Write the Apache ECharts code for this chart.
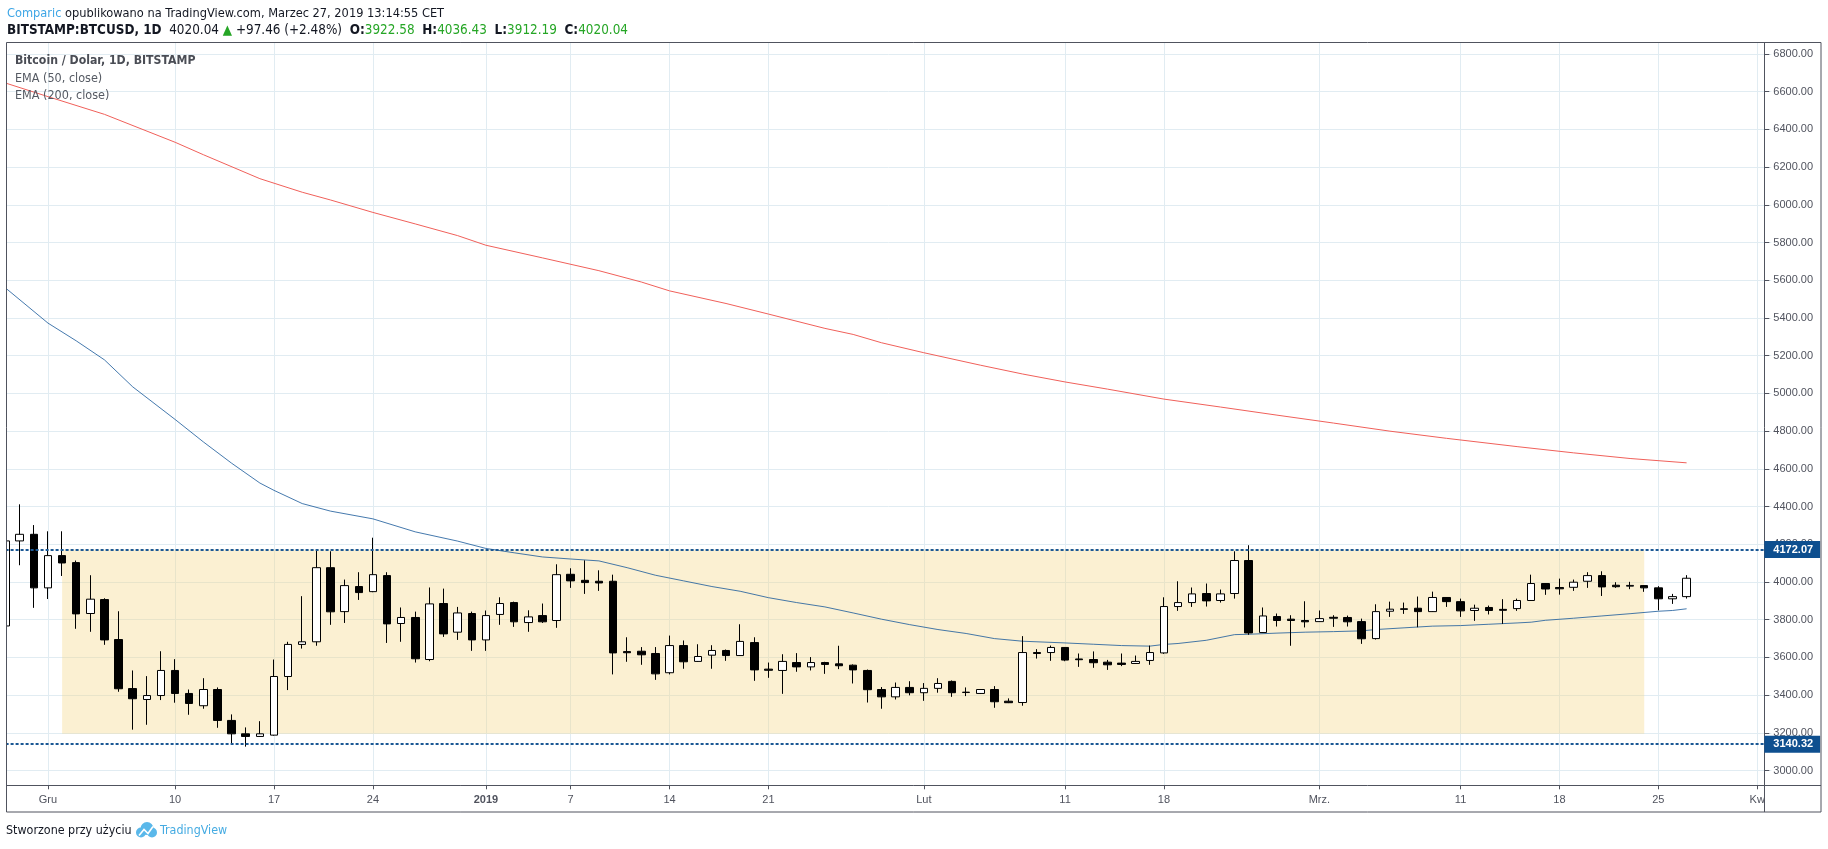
<!DOCTYPE html>
<html><head><meta charset="utf-8">
<script src="https://cdn.jsdelivr.net/npm/echarts@6/dist/echarts.min.js"></script>
<style>html,body{margin:0;padding:0;background:#fff}#c{width:1828px;height:849px}</style>
</head><body><div id="c"></div><script>
// ---- data ----
const firstDay = '2018-11-28';   // first category (left edge of pane)
const lastDay  = '2019-04-02';   // last category (beyond right edge)
const openV = [3767,4218,4253,
 3969,4140,4103,3833,3907,3695,3435,3377,3398,3531,3409,3344,3430,3266,3195,3181,3188,3499,3669,3683,4076,3843,3976,3949,4034,3780,3812,3589,3886,3734,3833,
 3693,3828,3891,3785,3822,3796,4041,4009,4004,4004,3631,3633,3621,3519,3663,3579,3612,3637,3610,3679,3538,3531,3573,3550,3573,3566,3559,3531,3430,3391,3441,
 3413,3436,3473,3414,3409,3430,3368,3361,3626,3626,3653,3592,3589,3575,3570,3568,3584,3624,3870,3891,3939,3902,3939,4114,3732,3817,3803,3796,
 3790,3813,3812,3790,3700,3845,3858,3861,3843,3918,3896,3849,3865,3855,3859,3902,3992,3971,3972,4004,4034,3983,3978,3981,3969,3911,3922.58];
const closeV = [4218,4253,3969,
 4140,4101,3831,3909,3693,3434,3381,3398,3531,3409,3356,3430,3266,3195,3181,3195,3499,3669,3683,4076,3842,3981,3944,4039,3778,3812,3593,3884,3725,3836,3693,
 3822,3886,3789,3815,3789,4039,4006,3997,3995,3624,3625,3614,3513,3663,3577,3605,3637,3610,3685,3534,3532,3579,3550,3573,3563,3556,3534,3429,3391,3441,3413,
 3436,3462,3413,3416,3430,3365,3360,3626,3621,3653,3586,3588,3572,3561,3563,3579,3626,3870,3891,3937,3900,3937,4114,3730,3820,3796,3796,3789,
 3806,3808,3789,3699,3843,3856,3855,3843,3918,3896,3847,3861,3849,3850,3902,3992,3963,3964,3999,4034,3974,3975,3982,3969,3911,3922.58,4020.04];
const lowV = [3740,4089,3863,
 3910,4032,3752,3736,3667,3418,3217,3243,3374,3360,3296,3328,3227,3139,3127,3179,3185,3427,3647,3662,3773,3783,3905,3946,3677,3683,3573,3580,3709,3693,3635,
 3635,3773,3762,3736,3783,3757,3969,3937,3953,3510,3577,3561,3481,3510,3540,3576,3540,3582,3608,3476,3492,3407,3524,3531,3513,3538,3462,3361,3328,3377,3399,
 3370,3413,3391,3395,3406,3333,3358,3344,3594,3582,3580,3550,3545,3534,3554,3566,3561,3619,3847,3868,3870,3891,3912,3720,3730,3764,3662,3759,
 3788,3762,3764,3672,3695,3815,3831,3760,3841,3868,3815,3794,3828,3778,3847,3900,3932,3933,3953,3969,3926,3969,3962,3948,3850,3884,3912.19];
const highV = [4260,4412,4302,
 4269,4269,4114,4036,3914,3845,3531,3501,3633,3591,3430,3490,3441,3298,3229,3262,3589,3683,3925,4172,4163,4013,4052,4235,4052,3865,3843,3971,3965,3868,3843,
 3849,3919,3896,3850,3886,4094,4073,4115,4062,4039,3707,3655,3655,3716,3690,3670,3665,3642,3776,3707,3573,3617,3623,3602,3577,3662,3563,3536,3443,3467,3474,
 3464,3490,3478,3441,3432,3448,3383,3713,3644,3663,3655,3621,3632,3587,3621,3610,3663,3919,4004,3971,3992,3960,4163,4195,3865,3833,3824,3898,
 3849,3824,3822,3806,3882,3896,3891,3923,3949,3919,3912,3880,3875,3909,3912,4039,3994,4018,4013,4052,4057,3999,4001,3983,3978,3937,4036.43];

const ema50Dates = ['2018-11-28','2018-12-01','2018-12-03','2018-12-05','2018-12-07','2018-12-10','2018-12-12','2018-12-14','2018-12-16','2018-12-17','2018-12-19','2018-12-21','2018-12-24','2018-12-27','2018-12-30','2019-01-01','2019-01-03','2019-01-05','2019-01-07','2019-01-09','2019-01-11','2019-01-13','2019-01-15','2019-01-17','2019-01-19','2019-01-21','2019-01-23','2019-01-25','2019-01-27','2019-01-29','2019-01-31','2019-02-02','2019-02-04','2019-02-06','2019-02-08','2019-02-11','2019-02-13','2019-02-15','2019-02-17','2019-02-18','2019-02-19','2019-02-21','2019-02-23','2019-02-24','2019-02-26','2019-02-28','2019-03-02','2019-03-04','2019-03-05','2019-03-07','2019-03-09','2019-03-11','2019-03-13','2019-03-15','2019-03-16','2019-03-17','2019-03-19','2019-03-21','2019-03-23','2019-03-25','2019-03-26','2019-03-27'];
const ema50 = [5559,5373,5279,5178,5035,4862,4743,4630,4525,4486,4416,4376,4335,4266,4217,4178,4155,4133,4122,4112,4076,4036,4006,3976,3951,3917,3891,3868,3836,3803,3774,3748,3727,3700,3686,3677,3670,3663,3660,3669,3674,3691,3721,3723,3729,3734,3737,3741,3748,3757,3766,3769,3776,3783,3787,3797,3808,3820,3832,3845,3849,3858];

const ema200Dates = ['2018-11-28','2018-12-01','2018-12-05','2018-12-10','2018-12-12','2018-12-16','2018-12-19','2018-12-21','2018-12-24','2018-12-27','2018-12-30','2019-01-01','2019-01-05','2019-01-09','2019-01-12','2019-01-14','2019-01-18','2019-01-21','2019-01-25','2019-01-27','2019-01-29','2019-02-01','2019-02-05','2019-02-08','2019-02-11','2019-02-14','2019-02-18','2019-02-22','2019-02-26','2019-03-02','2019-03-06','2019-03-10','2019-03-15','2019-03-19','2019-03-23','2019-03-27'];
const ema200 = [6646,6574,6480,6332,6266,6139,6067,6026,5960,5899,5837,5786,5719,5651,5591,5544,5477,5421,5345,5313,5269,5216,5150,5103,5061,5023,4970,4928,4885,4843,4800,4762,4718,4685,4655,4632];

const resistance = 4172.07;
const support = 3140.32;
const zoneFrom = '2018-12-02', zoneTo = '2019-03-24', zoneLow = 3195, zoneHigh = 4172.07;

const tickDates  = ['2018-12-01','2018-12-10','2018-12-17','2018-12-24','2019-01-01','2019-01-07','2019-01-14','2019-01-21','2019-02-01','2019-02-11','2019-02-18','2019-03-01','2019-03-11','2019-03-18','2019-03-25','2019-04-01'];
const tickLabels = ['Gru','10','17','24','2019','7','14','21','Lut','11','18','Mrz.','11','18','25','Kw'];

// ---- build ----
function iso(d){return d.toISOString().slice(0,10);}
const dates = [];
for (let d = new Date(firstDay+'T00:00:00Z'); iso(d) <= lastDay; d.setUTCDate(d.getUTCDate()+1)) dates.push(iso(d));
const candles = openV.map((o,i)=>[o, closeV[i], lowV[i], highV[i]]);
const labelOf = {}; tickDates.forEach((d,i)=>labelOf[d]=tickLabels[i]);
const isTick = (i,v)=> labelOf[v] !== undefined;

const n = closeV.length;
const lastC = closeV[n-1], prevC = closeV[n-2];
const chg = lastC - prevC, pct = chg/prevC*100;
const f2 = v => v.toFixed(2);

const FN = '"DejaVu Sans Condensed","Liberation Sans",sans-serif';
const FA = '"Liberation Sans",Arial,sans-serif';
const AX = '#50535e', GRID = '#e1ecf2';

const chart = echarts.init(document.getElementById('c'), null, {renderer:'canvas'});
chart.setOption({
  animation: false,
  backgroundColor: '#ffffff',
  title: [
    {left: 7, top: 6, padding: 0, text: '{c|Comparic} opublikowano na TradingView.com, Marzec 27, 2019 13:14:55 CET',
     textStyle: {fontFamily: FN, fontSize: 12.7, fontWeight: 'normal', color: '#131722', lineHeight: 16,
       rich: {c: {color: '#3ea6e6', fontFamily: FN, fontSize: 12.7}}}},
    {left: 7, top: 23, padding: 0,
     text: '{b|BITSTAMP:BTCUSD, 1D}  ' + f2(lastC) + ' {g|▲} +' + f2(chg) + ' (+' + f2(pct) + '%)  {b|O:}{g|' + f2(openV[n-1]) + '}  {b|H:}{g|' + f2(highV[n-1]) + '}  {b|L:}{g|' + f2(lowV[n-1]) + '}  {b|C:}{g|' + f2(lastC) + '}',
     textStyle: {fontFamily: FN, fontSize: 13.4, fontWeight: 'normal', color: '#131722', lineHeight: 16,
       rich: {b: {fontWeight: 'bold', fontFamily: FN, fontSize: 13.4, color: '#131722'}, g: {color: '#26a626', fontFamily: FN, fontSize: 13.4}}}},
    {left: 15, top: 53, padding: 0, text: 'Bitcoin / Dolar, 1D, BITSTAMP',
     textStyle: {fontFamily: FN, fontSize: 12.2, fontWeight: 'bold', color: '#4a4d55', lineHeight: 16}},
    {left: 15, top: 71, padding: 0, text: 'EMA (50, close)',
     textStyle: {fontFamily: FN, fontSize: 12.5, fontWeight: 'normal', color: '#555a63', lineHeight: 16}},
    {left: 15, top: 88, padding: 0, text: 'EMA (200, close)',
     textStyle: {fontFamily: FN, fontSize: 12.5, fontWeight: 'normal', color: '#555a63', lineHeight: 16}},
    {left: 6, top: 823, padding: 0, text: 'Stworzone przy użyciu',
     textStyle: {fontFamily: FN, fontSize: 12.4, fontWeight: 'normal', color: '#131722', lineHeight: 16}},
    {left: 160, top: 823, padding: 0, text: 'TradingView',
     textStyle: {fontFamily: FN, fontSize: 12.4, fontWeight: 'normal', color: '#45abe2', lineHeight: 16}}
  ],
  grid: {left: 5.6, right: 56.65, top: 42.7, bottom: 63.7, containLabel: false, outerBoundsMode: 'none'},
  xAxis: {
    type: 'category', data: dates, boundaryGap: false,
    axisLine: {show: false},
    axisTick: {show: true, interval: isTick, length: 4, lineStyle: {color: AX}},
    axisLabel: {interval: isTick, formatter: v => v === '2019-01-01' ? '{y|2019}' : (labelOf[v] || ''),
      color: AX, fontFamily: FA, fontSize: 11, margin: 9,
      rich: {y: {fontWeight: 'bold', color: AX, fontFamily: FA, fontSize: 11}}},
    splitLine: {show: true, interval: isTick, lineStyle: {color: GRID, width: 1}}
  },
  yAxis: {
    type: 'value', position: 'right', offset: -7.05, min: 2922, max: 6860, splitNumber: 20,
    axisLine: {show: false},
    axisTick: {show: true, length: 5, lineStyle: {color: AX}},
    axisLabel: {showMinLabel: false, showMaxLabel: false, formatter: v => v.toFixed(2),
      color: AX, fontFamily: FA, fontSize: 11, margin: 9},
    splitLine: {show: true, lineStyle: {color: GRID, width: 1}}
  },
  graphic: [
    {type: 'rect', z: 40, silent: true, shape: {x: 0, y: 42, width: 6.5, height: 744}, style: {fill: '#ffffff'}},
    {type: 'rect', z: 40, silent: true, shape: {x: 6.5, y: 42.5, width: 1814.5, height: 769.5}, style: {fill: 'none', stroke: AX, lineWidth: 1}},
    {type: 'line', z: 4, silent: true, shape: {x1: 1764.5, y1: 42.5, x2: 1764.5, y2: 812}, style: {stroke: AX, lineWidth: 1}},
    {type: 'line', z: 40, silent: true, shape: {x1: 6.5, y1: 785.5, x2: 1821, y2: 785.5}, style: {stroke: AX, lineWidth: 1}},
    {type: 'group', left: 136, top: 822, z: 4, silent: true, children: [
      {type: 'circle', shape: {cx: 6, cy: 11, r: 5}, style: {fill: '#5ab8ea'}},
      {type: 'circle', shape: {cx: 12, cy: 7, r: 6.5}, style: {fill: '#5ab8ea'}},
      {type: 'circle', shape: {cx: 17, cy: 11, r: 5}, style: {fill: '#5ab8ea'}},
      {type: 'polyline', shape: {points: [[4,14],[9,8],[13,12],[18,5]]}, style: {stroke: '#ffffff', lineWidth: 1.6, fill: 'none'}}
    ]}
  ],
  series: [
    {
      type: 'line', name: 'EMA 200', data: ema200Dates.map((d,i)=>[d, ema200[i]]),
      showSymbol: false, silent: true, z: 2,
      lineStyle: {color: '#f0605a', width: 1}
    },
    {
      type: 'line', name: 'EMA 50', data: ema50Dates.map((d,i)=>[d, ema50[i]]),
      showSymbol: false, silent: true, z: 2,
      lineStyle: {color: 'rgba(28,92,155,0.82)', width: 1}
    },
    {
      type: 'candlestick', name: 'BTCUSD', data: candles, barWidth: 8, z: 3, silent: true,
      itemStyle: {color: '#ffffff', color0: '#000000', borderColor: '#000000', borderColor0: '#000000', borderWidth: 1},
      markArea: {silent: true, itemStyle: {color: 'rgba(244,214,130,0.36)'},
        data: [[{xAxis: zoneFrom, yAxis: zoneLow}, {xAxis: zoneTo, yAxis: zoneHigh}]]},
      markLine: {
        silent: true, symbol: ['none','none'], animation: false,
        lineStyle: {color: '#1b5894', type: [3,2], width: 2},
        label: {position: 'end', distance: -7, formatter: p => f2(p.value),
          color: '#ffffff', fontFamily: FA, fontSize: 11, fontWeight: 'bold', lineHeight: 12,
          backgroundColor: '#0e4f8f', padding: [3, 7, 2, 9]},
        data: [
          {yAxis: resistance},
          {yAxis: support},
          {yAxis: lastC, lineStyle: {opacity: 0},
           label: {formatter: p => '-  ' + f2(p.value), color: '#131722', fontWeight: 'normal',
             backgroundColor: '#ffffff', padding: [3, 7, 2, 1]}}
        ]
      }
    }
  ]
});
</script></body></html>
